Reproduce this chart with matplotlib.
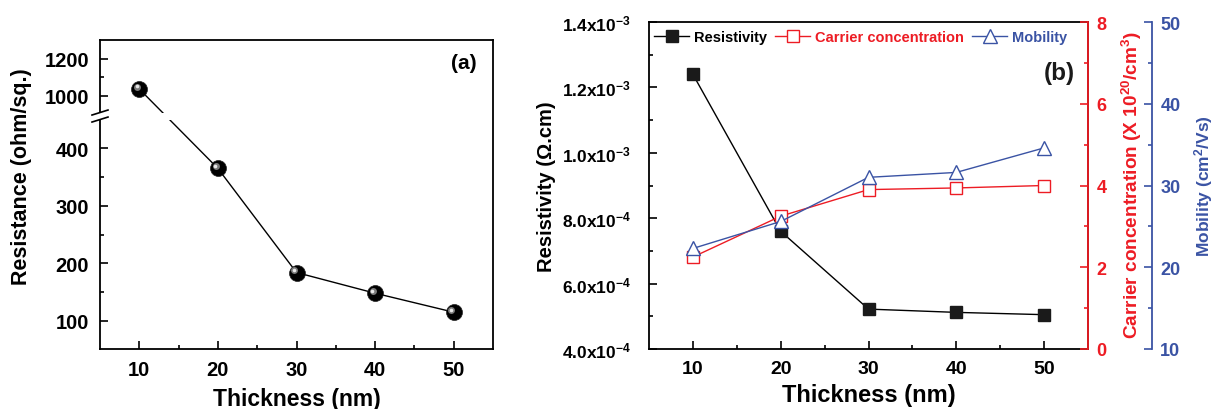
import numpy as np
import matplotlib
matplotlib.use('Agg')
import matplotlib.pyplot as plt
from matplotlib import transforms as mtransforms
from matplotlib.patches import Rectangle
from matplotlib.lines import Line2D
from matplotlib.ticker import FixedLocator

plt.rcParams['font.family'] = ['Liberation Sans', 'DejaVu Sans']
plt.rcParams['font.weight'] = 'bold'
plt.rcParams['axes.labelweight'] = 'bold'
plt.rcParams['mathtext.fontset'] = 'custom'
plt.rcParams['mathtext.rm'] = 'Liberation Sans:bold'
plt.rcParams['mathtext.it'] = 'Liberation Sans:bold'
plt.rcParams['mathtext.bf'] = 'Liberation Sans:bold'
plt.rcParams['mathtext.default'] = 'rm'

# ---------------- data ----------------
thickness = [10, 20, 30, 40, 50]
sheet_resistance = [1035, 365, 184, 148, 115]
resistivity = [1.24e-3, 7.6e-4, 5.22e-4, 5.12e-4, 5.05e-4]
carrier_conc = [2.25, 3.25, 3.90, 3.94, 4.0]
mobility = [22.3, 25.6, 31.0, 31.6, 34.6]

x_ticks = [10, 20, 30, 40, 50]
x_minor = [15, 25, 35, 45]
res_ticks = [100, 200, 300, 400, 1000, 1200]
res_minor = [150, 250, 350, 1100]
rho_ticks = [4e-4, 6e-4, 8e-4, 1.0e-3, 1.2e-3, 1.4e-3]
rho_labels = ["4.0x10$^{-4}$", "6.0x10$^{-4}$", "8.0x10$^{-4}$",
              "1.0x10$^{-3}$", "1.2x10$^{-3}$", "1.4x10$^{-3}$"]
cc_ticks = [0, 2, 4, 6, 8]
mob_ticks = [10, 20, 30, 40, 50]

RED = '#ed1c24'
BLUE = '#3a53a4'

W, H = 1214, 410
fig = plt.figure(figsize=(W / 100, H / 100), dpi=100)

# ---------------- panel (a): broken y axis via function scale ----------------
LOW_TOP, HIGH_BOT = 450.0, 908.0
GAP = 12.2
RATIO = 0.185 / 0.575


def fwd(v):
    v = np.asarray(v, float)
    return np.where(v <= LOW_TOP, v,
                    np.where(v <= HIGH_BOT,
                             LOW_TOP + (v - LOW_TOP) * GAP / (HIGH_BOT - LOW_TOP),
                             LOW_TOP + GAP + (v - HIGH_BOT) * RATIO))


def inv(u):
    u = np.asarray(u, float)
    return np.where(u <= LOW_TOP, u,
                    np.where(u <= LOW_TOP + GAP,
                             LOW_TOP + (u - LOW_TOP) * (HIGH_BOT - LOW_TOP) / GAP,
                             HIGH_BOT + (u - LOW_TOP - GAP) / RATIO))


axa = fig.add_axes([100 / W, (H - 350) / H, 393 / W, 309 / H])
axa.set_yscale('function', functions=(fwd, inv))
axa.set_xlim(5, 55)
axa.set_ylim(51, 1300)
axa.plot(thickness, sheet_resistance, color='black', lw=1.0, zorder=2)
axa.plot(thickness, sheet_resistance, ls='none', marker='o', ms=11.5,
         mfc='black', mec='#222222', mew=0.5, zorder=4)
hl1 = mtransforms.offset_copy(axa.transData, fig=fig, x=-1.6, y=1.6, units='points')
axa.plot(thickness, sheet_resistance, ls='none', marker='o', ms=5,
         mfc='#7a7a7a', mec='none', transform=hl1, zorder=5)
hl2 = mtransforms.offset_copy(axa.transData, fig=fig, x=-1.9, y=1.9, units='points')
axa.plot(thickness, sheet_resistance, ls='none', marker='o', ms=2.6,
         mfc='#e8e8e8', mec='none', transform=hl2, zorder=6)

axa.yaxis.set_major_locator(FixedLocator(res_ticks))
axa.yaxis.set_minor_locator(FixedLocator(res_minor))
axa.xaxis.set_major_locator(FixedLocator(x_ticks))
axa.xaxis.set_minor_locator(FixedLocator(x_minor))
axa.tick_params(which='both', direction='in', top=False, right=False, width=1.2)
axa.tick_params(which='major', length=6, labelsize=14.5, pad=8)
axa.tick_params(which='minor', length=3)
for s in axa.spines.values():
    s.set_linewidth(1.3)
axa.set_xlabel('Thickness (nm)', fontsize=16.5, labelpad=6)
axa.set_ylabel('Resistance (ohm/sq.)', fontsize=15.5)
axa.yaxis.set_label_coords(-0.172, 0.56)
axa.text(0.925, 0.926, '(a)', transform=axa.transAxes, fontsize=15,
         ha='center', va='center')

# break: white band + slash marks
blend = mtransforms.blended_transform_factory(axa.transAxes, axa.transData)
axa.add_patch(Rectangle((-0.02, LOW_TOP), 0.35, HIGH_BOT - LOW_TOP, transform=blend,
                        facecolor='white', edgecolor='none', zorder=3, clip_on=False))
to_ax = axa.transScale + axa.transLimits
y_hi = to_ax.transform((0, HIGH_BOT))[1]
y_lo = to_ax.transform((0, LOW_TOP))[1]
dx = 8 / 393
dy = 2.5 / 309
for yc in (y_hi, y_lo):
    axa.add_line(Line2D([-dx, dx], [yc - dy, yc + dy], transform=axa.transAxes,
                        color='black', lw=1.2, clip_on=False, zorder=6))

# ---------------- panel (b) ----------------
axb = fig.add_axes([649 / W, (H - 350) / H, 439 / W, 327 / H])
ax2 = axb.twinx()
ax3 = axb.twinx()
ax3.spines['right'].set_position(('axes', 503 / 439))

axb.set_xlim(5, 55)
axb.set_ylim(4e-4, 1.4e-3)
ax2.set_ylim(0, 8)
ax3.set_ylim(10, 50)

l1, = axb.plot(thickness, resistivity, color='black', lw=1.0, marker='s', ms=8.4,
               mfc='#1a1a1a', mec='#1a1a1a', label='Resistivity')
l2, = ax2.plot(thickness, carrier_conc, color=RED, lw=1.0, marker='s', ms=8.6,
               mfc='white', mec=RED, mew=1.0, label='Carrier concentration')
l3, = ax3.plot(thickness, mobility, color=BLUE, lw=1.0, marker='^', ms=10.5,
               mfc='white', mec=BLUE, mew=1.0, label='Mobility')

axb.xaxis.set_major_locator(FixedLocator(x_ticks))
axb.xaxis.set_minor_locator(FixedLocator(x_minor))
axb.set_yticks(rho_ticks)
axb.set_yticklabels(rho_labels)
axb.yaxis.set_minor_locator(FixedLocator([5e-4, 7e-4, 9e-4, 1.1e-3, 1.3e-3]))
axb.tick_params(which='both', direction='in', top=False, right=False, width=1.2)
axb.tick_params(which='major', length=6, pad=8)
axb.tick_params(axis='y', which='major', pad=13)
axb.tick_params(axis='x', labelsize=14)
axb.tick_params(axis='y', labelsize=12.5)
axb.tick_params(which='minor', length=3)
for s in axb.spines.values():
    s.set_linewidth(1.3)
axb.set_xlabel('Thickness (nm)', fontsize=17, labelpad=4)
axb.set_ylabel('Resistivity (Ω.cm)', fontsize=14.5)
axb.yaxis.set_label_coords(-0.212, 0.5)

for a in (ax2, ax3):
    for k in ('left', 'top', 'bottom'):
        a.spines[k].set_visible(False)

ax2.spines['right'].set_color(RED)
ax2.spines['right'].set_linewidth(1.3)
ax2.set_yticks(cc_ticks)
ax2.yaxis.set_minor_locator(FixedLocator([1, 3, 5, 7]))
ax2.tick_params(axis='y', which='both', direction='in', colors=RED, width=1.2)
ax2.tick_params(axis='y', which='major', length=6, labelsize=13, pad=6)
ax2.tick_params(axis='y', which='minor', length=3)
ax2.set_ylabel('Carrier concentration (X 10$^{20}$/cm$^{3}$)', color=RED, fontsize=13.7)
ax2.yaxis.set_label_coords(1.073, 0.505)

ax3.spines['right'].set_color(BLUE)
ax3.spines['right'].set_linewidth(1.3)
ax3.set_yticks(mob_ticks)
ax3.yaxis.set_minor_locator(FixedLocator([15, 25, 35, 45]))
ax3.tick_params(axis='y', which='both', direction='in', colors=BLUE, width=1.2)
ax3.tick_params(axis='y', which='major', length=6, labelsize=13, pad=6)
ax3.tick_params(axis='y', which='minor', length=3)
ax3.set_ylabel('Mobility (cm$^{2}$/Vs)', color=BLUE, fontsize=12.5)
ax3.yaxis.set_label_coords(1.236, 0.5)

leg = ax3.legend(handles=[l1, l2, l3], loc='upper left', bbox_to_anchor=(0.012, 0.975),
                 ncol=3, frameon=False, fontsize=10.5, handlelength=2.4,
                 handletextpad=0.3, columnspacing=0.6, borderpad=0, borderaxespad=0)
for t, c in zip(leg.get_texts(), ['black', RED, BLUE]):
    t.set_color(c)

ax3.text(0.935, 0.845, '(b)', transform=ax3.transAxes, fontsize=17.5,
         ha='center', va='center', color='#1a1a1a')

fig.savefig('out.png', dpi=100)
